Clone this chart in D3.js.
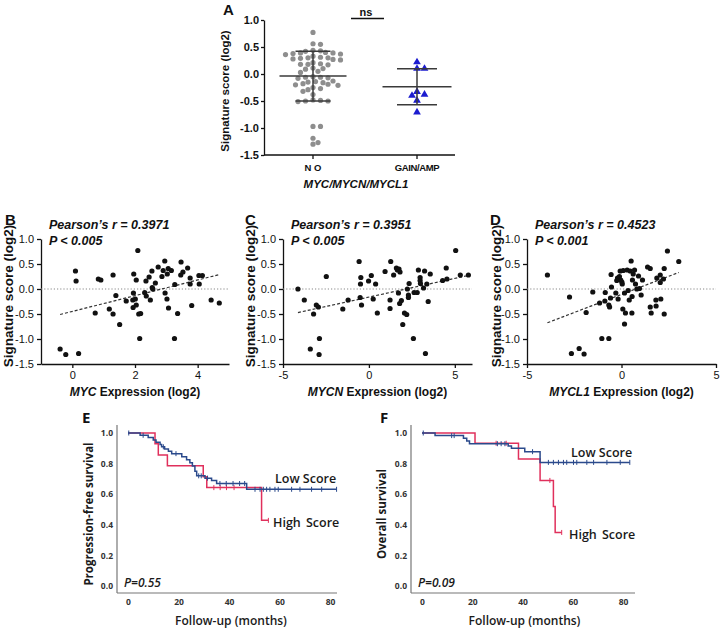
<!DOCTYPE html>
<html><head><meta charset="utf-8">
<script src="https://cdn.jsdelivr.net/npm/d3@7"></script>
<style>body{margin:0;background:#fff}svg{display:block}</style>
</head><body>
<svg id="c" width="720" height="629"></svg>
<script>
// ---------- DATA ----------
const groupNames = ["NO", "GAIN/AMP"];
const noScores = [0.77,0.56,0.55,0.44,0.43,0.42,0.40,0.39,0.39,0.38,0.37,0.36,0.33,0.31,0.30,0.30,0.29,0.28,0.27,0.26,
  0.21,0.19,0.18,0.18,0.17,0.11,0.10,0.09,0.05,0.03,-0.05,-0.06,-0.06,-0.07,-0.08,-0.13,-0.14,-0.15,-0.16,-0.18,-0.19,-0.20,-0.21,
  -0.25,-0.27,-0.29,-0.32,-0.38,-0.48,-0.49,-0.50,-0.50,-0.51,-0.97,-0.97,-1.19,-1.27,-1.30];
const gainScores = [0.22,0.10,0.10,-0.33,-0.38,-0.40,-0.49,-0.71];
const sigTicks = [-1.5,-1.0,-0.5,0.0,0.5,1.0];

const mycX = [-0.39,-0.21,0.20,0.10,0.12,0.83,0.91,0.73,1.30,1.39,1.18,1.30,1.51,1.72,2.09,1.96,2.04,1.95,1.93,2.01,1.94,2.04,2.12,2.18,2.15,2.35,2.45,2.54,2.65,2.55,2.57,2.31,2.36,2.49,2.74,2.86,2.90,2.95,3.03,3.06,3.16,2.96,3.02,3.07,3.27,3.36,3.26,3.47,3.46,3.53,3.68,3.76,3.76,3.81,4.04,4.05,4.15,4.43,4.69];
const mycY = [-1.20,-1.31,-1.29,0.36,0.16,0.20,0.18,-0.48,0.28,-0.13,-0.40,-0.50,-0.71,-0.24,0.77,0.30,0.18,-0.08,-0.22,-0.20,-0.37,-0.32,-0.50,-0.49,-0.99,0.16,0.24,0.36,0.12,0.03,0.00,-0.07,-0.14,-0.22,0.44,0.25,0.37,0.56,0.30,0.41,0.37,-0.08,-0.20,-0.38,0.09,-0.49,-0.99,0.54,0.28,0.34,0.42,0.22,0.10,-0.33,0.27,0.10,0.27,-0.22,-0.28];
const mycnX = [-4.13,-3.76,-3.22,-3.06,-2.94,-3.41,-2.90,-2.88,-2.48,-1.52,-1.21,-0.57,-0.51,-0.47,-0.49,-0.43,-0.02,0.14,0.25,0.39,0.49,0.94,1.27,1.23,1.23,1.44,1.60,1.66,1.75,1.81,1.72,1.79,1.89,1.97,2.07,2.20,2.24,2.30,2.34,2.30,2.59,2.63,2.81,2.88,2.98,2.98,3.00,3.18,3.24,3.29,3.37,3.45,3.57,4.29,4.50,4.54,5.05,5.32,5.79];
const mycnY = [0.00,-0.22,-0.50,-0.32,-0.36,-1.20,-1.31,-0.99,0.25,-0.40,-0.22,0.55,-0.17,0.23,0.10,-0.32,0.16,0.27,-0.20,0.10,-0.48,0.35,0.55,-0.22,-0.39,0.28,0.42,0.38,0.40,0.34,-0.08,-0.29,-0.23,-0.71,-0.48,-0.51,0.00,-0.12,0.11,-0.17,-0.99,-0.07,-0.07,0.38,0.23,0.17,0.11,0.02,0.36,-1.29,0.10,-0.25,0.30,0.17,0.42,0.20,0.77,0.28,0.28];
const myclX = [-3.92,-2.75,-2.65,-2.24,-1.98,-1.87,-1.52,-1.16,-1.04,-0.88,-0.86,-0.67,-0.63,-0.67,-0.58,-0.55,-0.53,-0.30,-0.25,-0.21,-0.18,-0.11,-0.07,-0.04,0.02,0.04,0.07,0.09,0.16,0.16,0.21,0.30,0.35,0.41,0.46,0.51,0.55,0.56,0.58,0.62,0.69,0.74,0.81,0.90,0.95,1.04,1.11,1.38,1.52,1.52,1.57,1.82,1.83,1.87,2.05,2.08,2.05,2.22,2.26,2.26,2.43,3.03];
const myclY = [0.28,-0.16,-1.29,-1.19,-1.30,-0.47,-0.06,-0.28,-0.99,-0.24,-0.07,-0.32,-0.36,-0.99,-0.18,0.29,0.04,-0.08,0.17,0.22,-0.20,0.25,0.36,0.18,0.14,0.10,-0.40,0.37,-0.70,-0.08,-0.48,0.38,-0.03,-0.22,0.36,0.56,-0.48,-0.15,0.18,0.30,0.38,0.10,0.00,0.26,0.01,-0.12,0.18,0.44,0.41,-0.36,-0.48,-0.22,-0.34,0.22,0.28,-0.20,0.13,0.20,0.41,-0.50,0.76,0.55];

const kmYTicks = [0,0.2,0.4,0.6,0.8,1.0];
const kmXTicks = [0,20,40,60,80];
// E: progression-free survival
const pfsLowT = [0,4.8,8.0,10.0,11.1,12.7,13.3,14.5,16.0,17.3,21.3,23.2,24.5,25.5,26.5,27.2,30.5,33.1,35.1,47.0];
const pfsLowS = [1.0,0.985,0.97,0.955,0.94,0.925,0.91,0.895,0.88,0.865,0.845,0.825,0.805,0.785,0.75,0.72,0.705,0.69,0.67,0.632];
const pfsLowEnd = 82.6;
const pfsLowCens = [0.3,6,14,19,28,29,31.5,36.4,38.9,41.6,44.2,46.2,50.3,52.3,53.6,54.9,56.2,58.2,59.5,64.8,68.1,72.7,76.7,82.6];
const pfsHighT = [0,10.7,12.0,15.6,29.8,31.2,52.9];
const pfsHighS = [1.0,0.929,0.857,0.786,0.714,0.643,0.429];
const pfsHighEnd = 55.6;
const pfsHighCens = [34,36.5,39,42,55.6];
// F: overall survival
const osLowT = [0,5.2,16.5,17.8,18.9,34.3,35.6,40.9,47.0];
const osLowS = [1.0,0.983,0.965,0.948,0.93,0.915,0.9,0.878,0.808];
const osLowEnd = 82.7;
const osLowCens = [0.5,11.8,12.8,30,31.5,33,44,50.3,52.3,54.3,56.3,57.6,60.3,61.6,65.6,68.3,73.6,78.9,82.7];
const osHighT = [0,21.1,38.4,47.0,52.3,53.0];
const osHighS = [1.0,0.933,0.83,0.69,0.52,0.35];
const osHighEnd = 55.6;
const osHighCens = [29.5,33.5,50.9,55.6];

// ---------- DRAW ----------
const svg = d3.select("#c");
const ARIAL = "Arial, 'Liberation Sans', sans-serif";
const OPEN = "'Open Sans', sans-serif";
const fmt1 = d => (Math.abs(d) < 1e-9 ? 0 : d).toFixed(1);

function txt(g, x, y, s, o = {}) {
  const t = g.append("text").attr("x", x).attr("y", y).text(s)
    .attr("font-family", o.ff || ARIAL).attr("font-size", o.fs || 12)
    .attr("font-weight", o.fw || "bold").attr("fill", o.fill || "#111");
  if (o.anchor) t.attr("text-anchor", o.anchor);
  if (o.italic) t.attr("font-style", "italic");
  if (o.rot) t.attr("transform", `rotate(-90,${x},${y})`);
  return t;
}

// ---- Panel A ----
(function () {
  const g = svg.append("g");
  const y = d3.scaleLinear().domain([-1.5, 1.0]).range([155, 20]);
  const x = d3.scalePoint().domain(groupNames).range([313, 417]);
  const yAx = g.append("g").attr("transform", "translate(264,0)")
    .call(d3.axisLeft(y).tickValues(sigTicks).tickFormat(fmt1).tickSize(3).tickPadding(2).tickSizeOuter(0));
  yAx.selectAll("text").attr("font-family", ARIAL).attr("font-size", 11).attr("font-weight", "bold").attr("fill", "#111");
  yAx.selectAll("line,path").attr("stroke", "#111").attr("stroke-width", 1.3);
  g.append("line").attr("x1", 264).attr("x2", 455).attr("y1", 155).attr("y2", 155).attr("stroke", "#111").attr("stroke-width", 1.3);
  groupNames.forEach(n => {
    g.append("line").attr("x1", x(n)).attr("x2", x(n)).attr("y1", 155).attr("y2", 159).attr("stroke", "#111").attr("stroke-width", 1.3);
  });
  txt(g, x("NO"), 171, "N O", { fs: 9.5 , anchor: "middle" });
  txt(g, x("GAIN/AMP"), 171, "GAIN/AMP", { fs: 9.5, anchor: "middle" }).attr("letter-spacing", -0.4);
  txt(g, 356, 188, "MYC/MYCN/MYCL1", { fs: 11.5, anchor: "middle", italic: true });
  txt(g, 229, 91, "Signature score (log2)", { fs: 11.5, anchor: "middle", rot: true });
  txt(g, 223, 15, "A", { fs: 15 });
  g.append("line").attr("x1", 351).attr("x2", 384).attr("y1", 18.5).attr("y2", 18.5).attr("stroke", "#111").attr("stroke-width", 1.3);
  txt(g, 366, 15.5, "ns", { fs: 11, anchor: "middle" });

  function swarm(vals, cx, minD) {
    const placed = [];
    const sorted = vals.slice().sort((a, b) => b - a);
    sorted.forEach(v => {
      const py = y(v);
      for (let k = 0; k < 40; k++) {
        const off = (k % 2 ? 1 : -1) * Math.ceil(k / 2) * 2.5;
        const px = cx + off;
        if (placed.every(p => Math.hypot(p[0] - px, p[1] - py) >= minD)) { placed.push([px, py, v]); break; }
      }
    });
    return placed;
  }
  const noPts = swarm(noScores, x("NO"), 5.2);
  g.selectAll(".no").data(noPts).join("circle").attr("cx", d => d[0]).attr("cy", d => d[1]).attr("r", 2.6).attr("fill", "#8e8e8e");
  const gaPts = swarm(gainScores, x("GAIN/AMP"), 6);
  g.selectAll(".ga").data(gaPts).join("path").attr("d", d3.symbol(d3.symbolTriangle, 26))
    .attr("transform", d => `translate(${d[0]},${d[1]})`).attr("fill", "#1c1ccf");

  function summary(vals, cx, hwMean, hwSd) {
    const m = d3.mean(vals), s = d3.deviation(vals);
    const st = { stroke: "#3a3a3a", "stroke-width": 1.5 };
    const L = (x1, y1, x2, y2) => { const l = g.append("line").attr("x1", x1).attr("y1", y1).attr("x2", x2).attr("y2", y2); Object.entries(st).forEach(([k, v]) => l.attr(k, v)); };
    L(cx - hwMean, y(m), cx + hwMean, y(m));
    L(cx - hwSd, y(m + s), cx + hwSd, y(m + s));
    L(cx - hwSd, y(m - s), cx + hwSd, y(m - s));
    L(cx, y(m + s), cx, y(m - s));
  }
  summary(noScores, x("NO"), 33.5, 17.5);
  summary(gainScores, x("GAIN/AMP"), 34.5, 20);
})();

// ---- Panels B, C, D ----
function scatter(cfg) {
  const g = svg.append("g");
  const y = d3.scaleLinear().domain([-1.5, 1.0]).range([364, 239]);
  const x = d3.scaleLinear().domain(cfg.xDomain).range([cfg.x0, cfg.x1]);
  const yAx = g.append("g").attr("transform", `translate(${cfg.x0},0)`)
    .call(d3.axisLeft(y).tickValues(sigTicks).tickFormat(fmt1).tickSize(4).tickPadding(3).tickSizeOuter(0));
  const xAx = g.append("g").attr("transform", "translate(0,364)")
    .call(d3.axisBottom(x).tickValues(cfg.xTicks).tickFormat(d => d).tickSize(4).tickPadding(3).tickSizeOuter(0));
  [yAx, xAx].forEach(a => {
    a.selectAll("text").attr("font-family", ARIAL).attr("font-size", 11).attr("fill", "#111");
    a.selectAll("line,path").attr("stroke", "#111").attr("stroke-width", 1.3);
  });
  g.append("line").attr("x1", cfg.x0).attr("x2", cfg.x1).attr("y1", y(0)).attr("y2", y(0))
    .attr("stroke", "#888").attr("stroke-width", 1.2).attr("stroke-dasharray", "1.2,2");
  // regression
  const xs = cfg.xs, ys = cfg.ys;
  const mx = d3.mean(xs), my = d3.mean(ys);
  let sxy = 0, sxx = 0;
  xs.forEach((v, i) => { sxy += (v - mx) * (ys[i] - my); sxx += (v - mx) * (v - mx); });
  const b = sxy / sxx, a = my - b * mx;
  const [xmin, xmax] = d3.extent(xs);
  g.append("line").attr("x1", x(xmin)).attr("y1", y(a + b * xmin)).attr("x2", x(xmax)).attr("y2", y(a + b * xmax))
    .attr("stroke", "#333").attr("stroke-width", 1.2).attr("stroke-dasharray", "3,2");
  g.selectAll(".pt").data(xs).join("circle").attr("cx", (d) => x(d)).attr("cy", (d, i) => y(ys[i])).attr("r", 2.6).attr("fill", "#111");
  txt(g, cfg.letterX, 225, cfg.letter, { fs: 15 });
  txt(g, cfg.x0 + 8, 229, cfg.rText, { fs: 12.5, italic: true });
  txt(g, cfg.x0 + 8, 245, cfg.pText, { fs: 12.5, italic: true });
  txt(g, cfg.ylabX, 296, "Signature score (log2)", { fs: 13.5, anchor: "middle", rot: true });
  const xl = g.append("text").attr("x", (cfg.x0 + cfg.x1) / 2).attr("y", 396).attr("text-anchor", "middle")
    .attr("font-family", ARIAL).attr("font-size", 12).attr("font-weight", "bold").attr("fill", "#111");
  xl.append("tspan").attr("font-style", "italic").text(cfg.gene);
  xl.append("tspan").text(" Expression (log2)");
}
scatter({ xs: mycX, ys: mycY, xDomain: [-1, 5], xTicks: [0, 2, 4], x0: 41, x1: 229, letter: "B", letterX: 5,
  rText: "Pearson’s r = 0.3971", pText: "P < 0.005", ylabX: 13, gene: "MYC" });
scatter({ xs: mycnX, ys: mycnY, xDomain: [-5, 6], xTicks: [-5, 0, 5], x0: 283, x1: 472, letter: "C", letterX: 245,
  rText: "Pearson’s r = 0.3951", pText: "P < 0.005", ylabX: 255, gene: "MYCN" });
scatter({ xs: myclX, ys: myclY, xDomain: [-5, 5], xTicks: [-5, 0, 5], x0: 527, x1: 716, letter: "D", letterX: 490,
  rText: "Pearson’s r = 0.4523", pText: "P < 0.001", ylabX: 501, gene: "MYCL1" });

// ---- Panels E, F ----
function km(cfg) {
  const g = svg.append("g");
  const y = d3.scaleLinear().domain([0, 1]).range([586, 433]);
  const x = d3.scaleLinear().domain([0, 80]).range([cfg.xs0, cfg.xs1]);
  g.append("line").attr("x1", cfg.ax0).attr("x2", cfg.ax0).attr("y1", 425).attr("y2", 593).attr("stroke", "#777").attr("stroke-width", 1.2);
  g.append("line").attr("x1", cfg.ax0).attr("x2", cfg.ax1).attr("y1", 593).attr("y2", 593).attr("stroke", "#777").attr("stroke-width", 1.2);
  const yAx = g.append("g").attr("transform", `translate(${cfg.ax0},0)`)
    .call(d3.axisLeft(y).tickValues(kmYTicks).tickFormat(fmt1).tickSize(0).tickPadding(4));
  const xAx = g.append("g").attr("transform", "translate(0,593)")
    .call(d3.axisBottom(x).tickValues(kmXTicks).tickFormat(d => d).tickSize(0).tickPadding(6));
  [yAx, xAx].forEach(a => {
    a.select(".domain").remove();
    a.selectAll("text").attr("font-family", OPEN).attr("font-size", 8.5).attr("font-weight", "bold").attr("fill", "#333");
  });
  function curve(T, S, end, cens, color) {
    const pts = T.map((t, i) => [t, S[i]]);
    pts.push([end, S[S.length - 1]]);
    g.append("path").attr("d", d3.line().x(d => x(d[0])).y(d => y(d[1])).curve(d3.curveStepAfter)(pts))
      .attr("fill", "none").attr("stroke", color).attr("stroke-width", 1.5);
    const bis = d3.bisector(d => d).right;
    g.selectAll(null).data(cens).join("line")
      .attr("x1", d => x(d)).attr("x2", d => x(d))
      .attr("y1", d => y(S[bis(T, d) - 1]) - 2.5).attr("y2", d => y(S[bis(T, d) - 1]) + 2.5)
      .attr("stroke", color).attr("stroke-width", 1);
  }
  curve(cfg.hT, cfg.hS, cfg.hEnd, cfg.hC, "#e0305c");
  curve(cfg.lT, cfg.lS, cfg.lEnd, cfg.lC, "#2b4a8c");
  txt(g, cfg.letterX, 423, cfg.letter, { fs: 15, ff: OPEN });
  txt(g, cfg.lowX, cfg.lowY, "Low Score", { fs: 12.5, ff: OPEN, fw: 600, fill: "#1a1a1a" });
  txt(g, cfg.highX, cfg.highY, "High Score", { fs: 12.5, ff: OPEN, fw: 600, fill: "#1a1a1a" }).attr("word-spacing", 2);
  txt(g, cfg.xs0 - 4, 587, cfg.pText, { fs: 12, ff: OPEN, fw: 600, italic: true, fill: "#1a1a1a" });
  txt(g, cfg.ylabX, 514, cfg.ylab, { fs: 11.5, ff: OPEN, fw: "bold", anchor: "middle", rot: true, fill: "#1a1a1a" });
  txt(g, (cfg.xs0 + cfg.xs1) / 2 + 2, 625, "Follow-up (months)", { fs: 12, ff: OPEN, fw: 600, anchor: "middle", fill: "#1a1a1a" });
}
km({ xs0: 128, xs1: 330, ax0: 117, ax1: 337, letter: "E", letterX: 82,
  hT: pfsHighT, hS: pfsHighS, hEnd: pfsHighEnd, hC: pfsHighCens,
  lT: pfsLowT, lS: pfsLowS, lEnd: pfsLowEnd, lC: pfsLowCens,
  lowX: 275, lowY: 483, highX: 273, highY: 527, pText: "P=0.55", ylabX: 93, ylab: "Progression-free survival" });
km({ xs0: 422, xs1: 623, ax0: 411, ax1: 635, letter: "F", letterX: 380,
  hT: osHighT, hS: osHighS, hEnd: osHighEnd, hC: osHighCens,
  lT: osLowT, lS: osLowS, lEnd: osLowEnd, lC: osLowCens,
  lowX: 571, lowY: 457, highX: 569, highY: 539, pText: "P=0.09", ylabX: 386, ylab: "Overall survival" });
</script>
</body></html>
